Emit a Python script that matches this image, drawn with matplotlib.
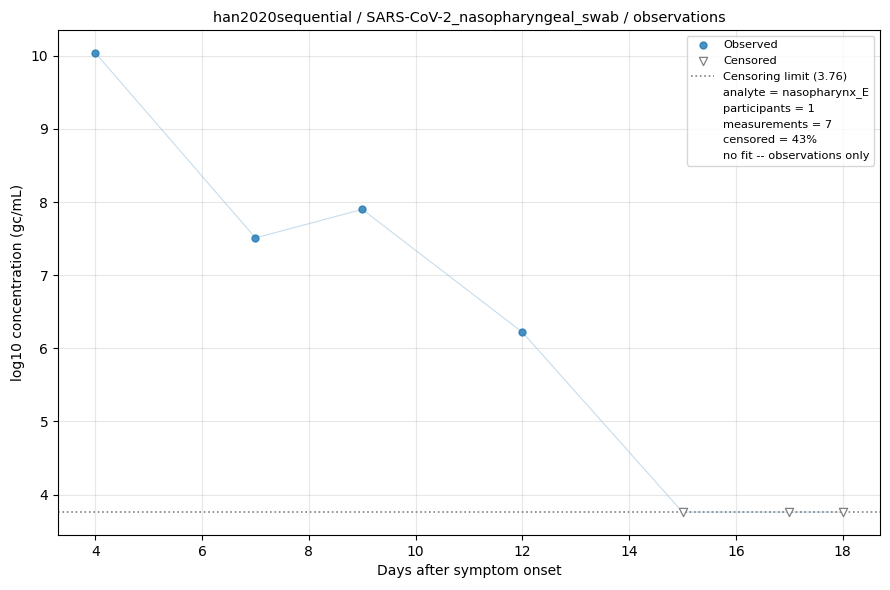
import matplotlib
matplotlib.use("Agg")
import matplotlib.pyplot as plt

# observations
days = [4, 7, 9, 12, 15, 17, 18]
log_conc = [10.04, 7.51, 7.90, 6.22, 3.76, 3.76, 3.76]
censored = [False, False, False, False, True, True, True]
limit = 3.76

info_lines = [
    "analyte = nasopharynx_E",
    "participants = 1",
    "measurements = 7",
    "censored = 43%",
    "no fit -- observations only",
]

fig, ax = plt.subplots(figsize=(8.9, 5.9), dpi=100)

ax.plot(days, log_conc, color="#1f77b4", alpha=0.25, lw=0.8, zorder=1)

obs_x = [d for d, c in zip(days, censored) if not c]
obs_y = [v for v, c in zip(log_conc, censored) if not c]
cen_x = [d for d, c in zip(days, censored) if c]
cen_y = [v for v, c in zip(log_conc, censored) if c]

ax.scatter(obs_x, obs_y, s=25, color="#1f77b4", alpha=0.8, label="Observed", zorder=3)
ax.scatter(cen_x, cen_y, s=35, marker="v", facecolors="white", edgecolors="gray",
           linewidths=0.9, label="Censored", zorder=3)
ax.axhline(limit, color="gray", ls=":", lw=1.2, label="Censoring limit ({:.2f})".format(limit))

for line in info_lines:
    ax.plot([], [], ls="none", label=line)

ax.set_xlabel("Days after symptom onset")
ax.set_ylabel("log10 concentration (gc/mL)")
ax.set_title("han2020sequential / SARS-CoV-2_nasopharyngeal_swab / observations", fontsize=10.4)
ax.grid(alpha=0.3)
ax.legend(loc="upper right", fontsize=8.2)

fig.subplots_adjust(left=58/890, right=880/890, top=1-30/590, bottom=1-535/590)
plt.savefig("out.png")
